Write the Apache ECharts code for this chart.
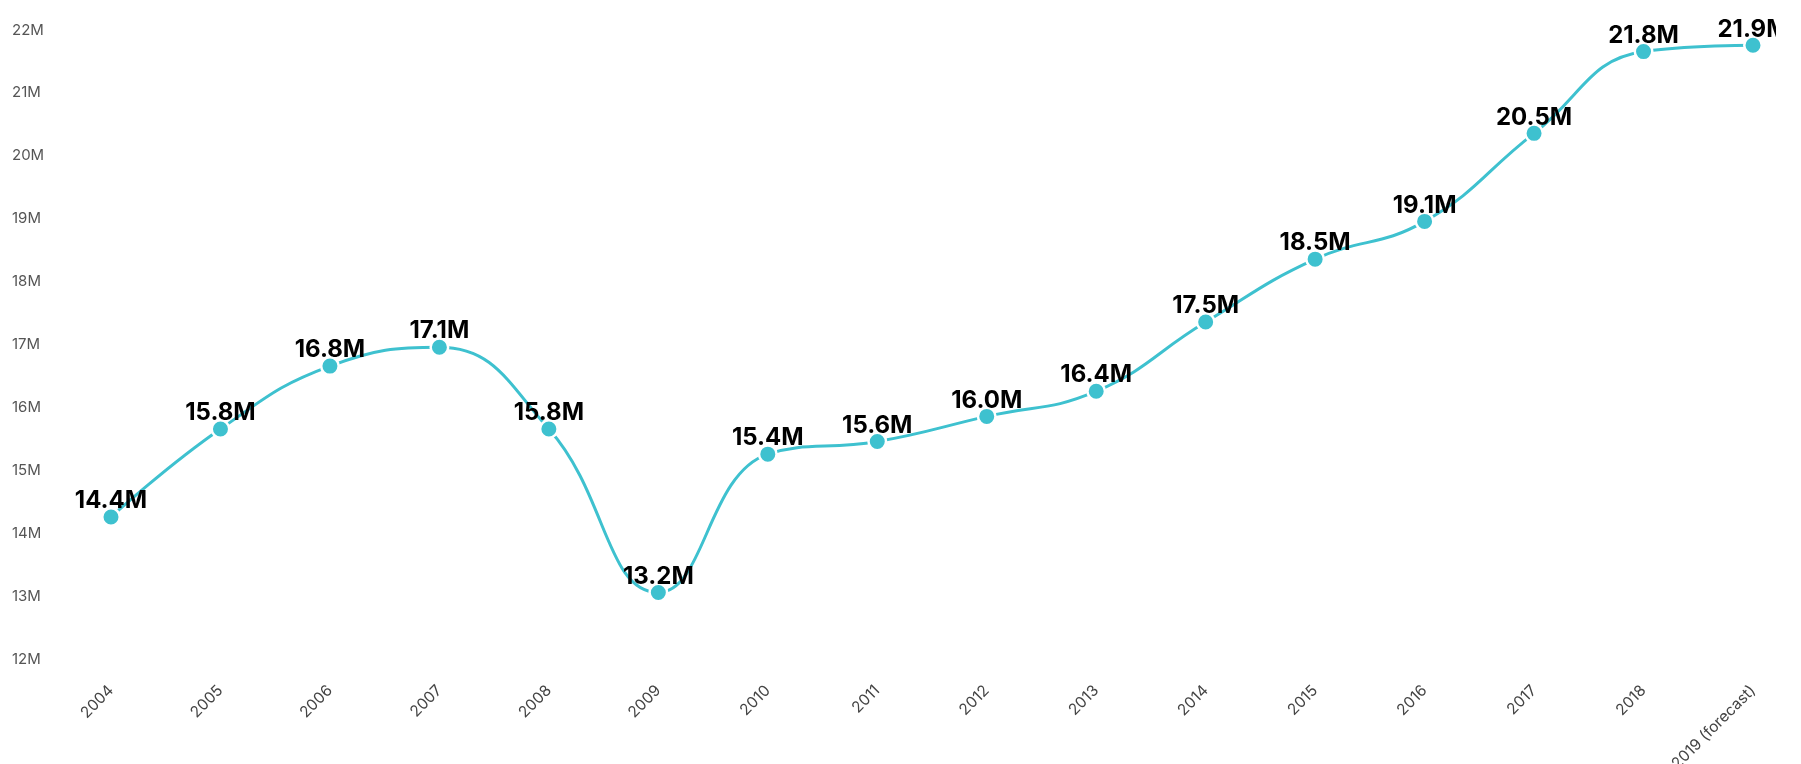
<!DOCTYPE html>
<html>
<head>
<meta charset="utf-8">
<script src="https://cdn.jsdelivr.net/npm/echarts@6/dist/echarts.min.js"></script>
<style>
  html, body { margin: 0; padding: 0; background: #fff; overflow: hidden; }
  #chart { width: 1776px; height: 764px; }
</style>
</head>
<body>
<div id="chart"></div>
<script>
// categories and values (millions)
const years = ['2004', '2005', '2006', '2007', '2008', '2009', '2010', '2011',
  '2012', '2013', '2014', '2015', '2016', '2017', '2018', '2019 (forecast)'];
const values = [14.4, 15.8, 16.8, 17.1, 15.8, 13.2, 15.4, 15.6,
  16.0, 16.4, 17.5, 18.5, 19.1, 20.5, 21.8, 21.9];
const yTicks = [12, 13, 14, 15, 16, 17, 18, 19, 20, 21, 22];

const lineColor = '#3ec1cf';
const font = 'Inter, "Noto Sans", sans-serif';

let chart = echarts.init(document.getElementById('chart'));

let option = {
  animation: false,
  backgroundColor: '#fff',
  grid: {
    left: 111,
    right: 23,
    top: 39,
    bottom: 96,
    containLabel: false,
    outerBoundsMode: 'none'
  },
  xAxis: {
    type: 'category',
    boundaryGap: false,
    data: years,
    axisLine: { show: false },
    axisTick: { show: false },
    axisLabel: {
      rotate: 45,
      margin: 20,
      interval: 0,
      color: '#444',
      fontSize: 15.5,
      fontFamily: font
    }
  },
  yAxis: {
    type: 'value',
    min: yTicks[0],
    max: yTicks[yTicks.length - 1],
    interval: 1,
    splitLine: { show: false },
    axisLine: { show: false },
    axisTick: { show: false },
    axisLabel: {
      align: 'left',
      verticalAlign: 'bottom',
      lineHeight: 18,
      margin: 99,
      color: '#555',
      fontSize: 15,
      fontFamily: font,
      formatter: function (v) { return v + 'M'; }
    }
  },
  series: [{
    type: 'line',
    data: values,
    smooth: 0.45,
    symbol: 'circle',
    symbolSize: 17.5,
    lineStyle: { color: lineColor, width: 3 },
    itemStyle: { color: lineColor, borderColor: '#fff', borderWidth: 2.5 },
    label: {
      show: true,
      position: 'top',
      distance: -6,
      color: '#000',
      fontSize: 24,
      fontWeight: 'bold',
      fontFamily: font,
      formatter: function (p) { return p.value.toFixed(1) + 'M'; }
    }
  }]
};

chart.setOption(option);
</script>
</body>
</html>
